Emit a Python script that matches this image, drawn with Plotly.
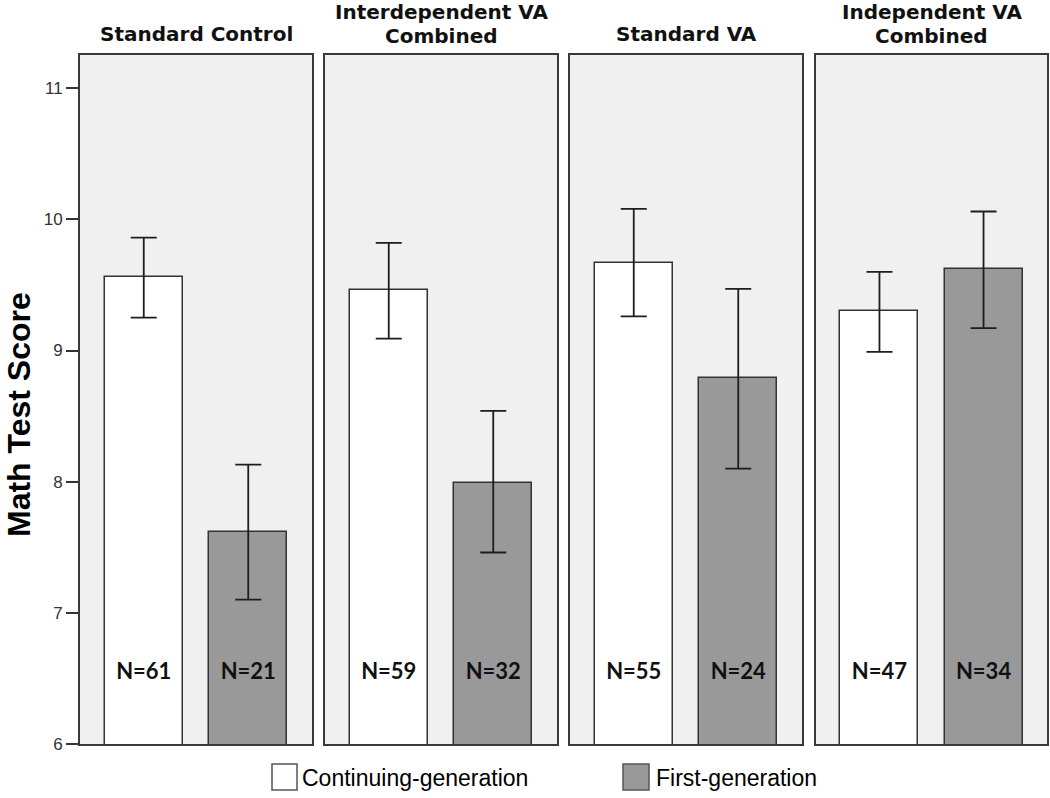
import plotly.graph_objects as go

# ---- data ----
panel_title_lines = [["Standard Control"], ["Interdependent VA", "Combined"],
                     ["Standard VA"], ["Independent VA", "Combined"]]
series = ["Continuing-generation", "First-generation"]
cont_mean = [9.56, 9.46, 9.67, 9.30]
cont_hi = [9.86, 9.82, 10.08, 9.60]
cont_lo = [9.25, 9.09, 9.26, 8.99]
first_mean = [7.62, 7.99, 8.79, 9.62]
first_hi = [8.13, 8.54, 9.47, 10.06]
first_lo = [7.10, 7.46, 8.10, 9.17]
n_cont = [61, 59, 55, 47]
n_first = [21, 32, 24, 34]
y_ticks = [6, 7, 8, 9, 10, 11]

W, H = 1050, 798
px_domains = [(80, 312), (325, 557), (570, 802), (816, 1047)]
y_dom = (1 - 744 / H, 1 - 55 / H)
label_y = 6.54

fill_colors = ["#ffffff", "#999999"]
bar_line = "#333333"
frame = "#3a3a3a"

fig = go.Figure()
layout = dict(width=W, height=H, margin=dict(l=0, r=0, t=0, b=0, pad=0),
              paper_bgcolor="white", plot_bgcolor="#f0f0f0", showlegend=False,
              bargap=0)

annotations = []
for i in range(4):
    xa = "x" if i == 0 else f"x{i+1}"
    ya = "y" if i == 0 else f"y{i+1}"
    means = [cont_mean[i], first_mean[i]]
    his = [cont_hi[i], first_hi[i]]
    los = [cont_lo[i], first_lo[i]]
    for j in range(2):
        fig.add_trace(go.Bar(
            x=[j], y=[means[j]], width=0.75, xaxis=xa, yaxis=ya,
            name=series[j],
            marker=dict(color=fill_colors[j], line=dict(color=bar_line, width=1.5)),
            error_y=dict(type="data", symmetric=False,
                         array=[his[j] - means[j]], arrayminus=[means[j] - los[j]],
                         color="#1e1e1e", thickness=1.8, width=13),
        ))
    fig.add_trace(go.Scatter(
        x=[0, 1], y=[label_y, label_y], xaxis=xa, yaxis=ya, mode="text",
        text=[f"<b>N={n_cont[i]}</b>", f"<b>N={n_first[i]}</b>"],
        textfont=dict(family="Lato", size=22, color="#111111"),
        textposition="middle center", hoverinfo="skip",
    ))
    d0, d1 = px_domains[i]
    xkey = "xaxis" if i == 0 else f"xaxis{i+1}"
    ykey = "yaxis" if i == 0 else f"yaxis{i+1}"
    layout[xkey] = dict(domain=[d0 / W, d1 / W], range=[-0.61, 1.61], anchor=ya,
                        showticklabels=False, ticks="", showgrid=False, zeroline=False,
                        showline=True, mirror=True, linecolor=frame, linewidth=2)
    layout[ykey] = dict(domain=list(y_dom), range=[6, 11.253], anchor=xa,
                        showgrid=False, zeroline=False, automargin=False,
                        showline=True, mirror=True, linecolor=frame, linewidth=2,
                        tickvals=y_ticks if i == 0 else [],
                        ticks="outside" if i == 0 else "", ticklen=12, tickwidth=1.5,
                        tickcolor="#333333",
                        showticklabels=(i == 0),
                        tickfont=dict(family="Liberation Sans, Arial", size=17, color="#333333"))
    lines = panel_title_lines[i]
    centers = [34] if len(lines) == 1 else [12.5, 35.5]
    for line, cy in zip(lines, centers):
        annotations.append(dict(
            text=f"<b>{line}</b>", xref="paper", yref="paper",
            x=(d0 + d1) / 2 / W, y=1 - cy / H, xanchor="center", yanchor="middle",
            showarrow=False, borderpad=0,
            font=dict(family="DejaVu Sans", size=20, color="#111111"),
        ))

# y-axis title
annotations.append(dict(
    text="<b>Math Test Score</b>", xref="paper", yref="paper",
    x=19 / W, y=1 - 415 / H, textangle=-90, xanchor="center", yanchor="middle",
    showarrow=False, borderpad=0,
    font=dict(family="Liberation Sans, Arial", size=32, color="#000000"),
))

# legend (manual)
legend_boxes = [(272, 297), (623, 649)]
legend_text_x = [301, 655]
shapes = []
for j in range(2):
    bx0, bx1 = legend_boxes[j]
    shapes.append(dict(type="rect", xref="paper", yref="paper",
                       x0=bx0 / W, x1=bx1 / W, y0=1 - 790 / H, y1=1 - 764 / H,
                       fillcolor=fill_colors[j], line=dict(color="#555555", width=1.5)))
    annotations.append(dict(
        text=series[j], xref="paper", yref="paper",
        x=legend_text_x[j] / W, y=1 - 778 / H, xanchor="left", yanchor="middle",
        showarrow=False, borderpad=0,
        font=dict(family="Liberation Sans, Arial", size=23, color="#000000"),
    ))

layout["annotations"] = annotations
layout["shapes"] = shapes
fig.update_layout(**layout)
fig.write_html("out.html", config={"displayModeBar": False},
               post_script="document.body.style.margin='0';document.body.style.overflow='hidden';")
